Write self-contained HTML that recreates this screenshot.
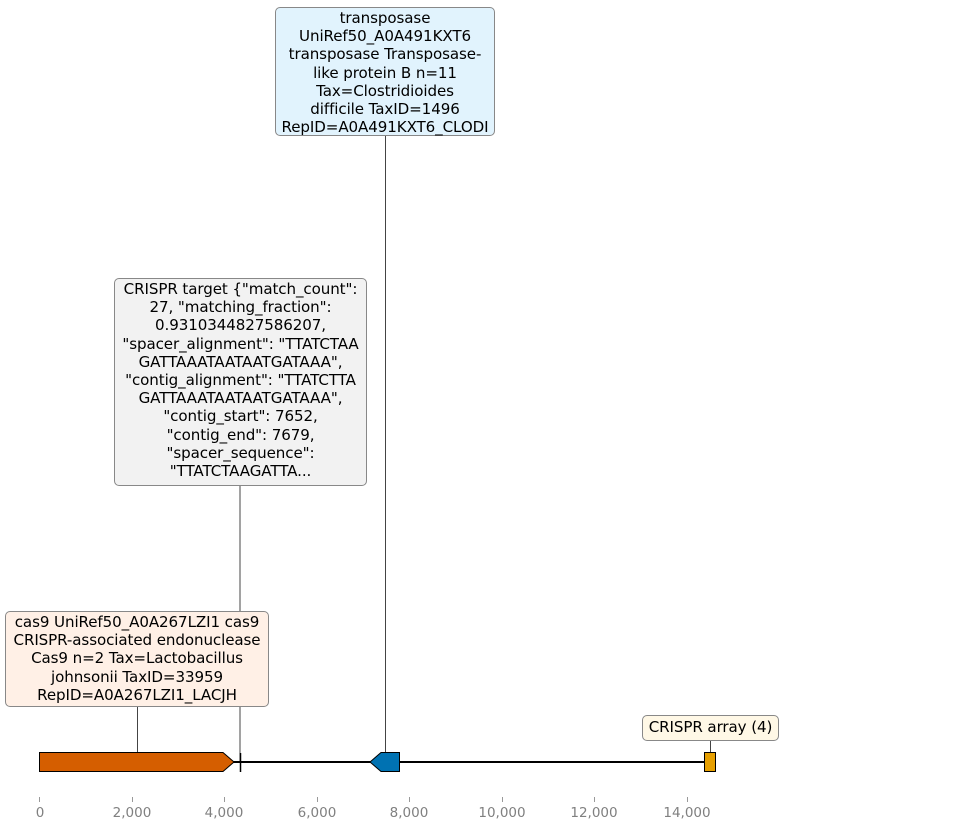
<!DOCTYPE html>
<html><head><meta charset="utf-8"><style>
body{margin:0;width:974px;height:831px;background:#fff;position:relative;overflow:hidden;font-family:"DejaVu Sans","Liberation Sans",sans-serif;}
.b{position:absolute;border:1px solid #888;border-radius:5px;text-align:center;font-size:15.1px;line-height:18.2px;color:#000;box-sizing:border-box;padding-top:1px;white-space:nowrap;letter-spacing:-0.1px}
.t{position:absolute;top:805px;font-size:13.5px;color:#808080;transform:translateX(-50%)}
</style></head><body>
<svg width="974" height="831" style="position:absolute;left:0;top:0">
<g stroke="#444" stroke-width="1">
<line x1="385.5" y1="135" x2="385.5" y2="753"/>
<line x1="240" y1="485" x2="240" y2="762"/>
<line x1="137.5" y1="706" x2="137.5" y2="753"/>
<line x1="710.5" y1="740" x2="710.5" y2="753"/>
</g>
<line x1="39" y1="762" x2="716" y2="762" stroke="#000" stroke-width="2"/>
<line x1="240.5" y1="753" x2="240.5" y2="772" stroke="#000" stroke-width="1.5"/>
<polygon points="39.5,752.5 223,752.5 234,762 223,771.5 39.5,771.5" fill="#d55e00" stroke="#000" stroke-width="1"/>
<polygon points="370,762 381,752.5 399.5,752.5 399.5,771.5 381,771.5" fill="#0072b2" stroke="#000" stroke-width="1"/>
<rect x="704.5" y="752.5" width="11" height="19" fill="#e69f00" stroke="#000" stroke-width="1"/>
<g stroke="#999" stroke-width="1">
<line x1="39.5" y1="797" x2="39.5" y2="802"/><line x1="132.5" y1="797" x2="132.5" y2="802"/>
<line x1="224.5" y1="797" x2="224.5" y2="802"/><line x1="317.5" y1="797" x2="317.5" y2="802"/>
<line x1="409.5" y1="797" x2="409.5" y2="802"/><line x1="502.5" y1="797" x2="502.5" y2="802"/>
<line x1="594.5" y1="797" x2="594.5" y2="802"/><line x1="687.5" y1="797" x2="687.5" y2="802"/>
</g>
</svg>
<div class="t" style="left:40px">0</div><div class="t" style="left:132px">2,000</div>
<div class="t" style="left:224px">4,000</div><div class="t" style="left:317px">6,000</div>
<div class="t" style="left:409px">8,000</div><div class="t" style="left:502px">10,000</div>
<div class="t" style="left:594px">12,000</div><div class="t" style="left:687px">14,000</div>
<div class="b" style="left:275px;top:7px;width:220px;height:129px;background:#e1f3fd">transposase<br>UniRef50_A0A491KXT6<br>transposase Transposase-<br>like protein B n=11<br>Tax=Clostridioides<br>difficile TaxID=1496<br>RepID=A0A491KXT6_CLODI</div>
<div class="b" style="left:114px;top:278px;width:253px;height:208px;background:#f2f2f2">CRISPR target {"match_count":<br>27, "matching_fraction":<br>0.9310344827586207,<br>"spacer_alignment": "TTATCTAA<br>GATTAAATAATAATGATAAA",<br>"contig_alignment": "TTATCTTA<br>GATTAAATAATAATGATAAA",<br>"contig_start": 7652,<br>"contig_end": 7679,<br>"spacer_sequence":<br>"TTATCTAAGATTA...</div>
<div class="b" style="left:5px;top:611px;width:264px;height:96px;background:#fff0e6">cas9 UniRef50_A0A267LZI1 cas9<br>CRISPR-associated endonuclease<br>Cas9 n=2 Tax=Lactobacillus<br>johnsonii TaxID=33959<br>RepID=A0A267LZI1_LACJH</div>
<div class="b" style="left:642px;top:715px;width:137px;height:26px;background:#fff8e6;padding-top:2px">CRISPR array (4)</div>
</body></html>
